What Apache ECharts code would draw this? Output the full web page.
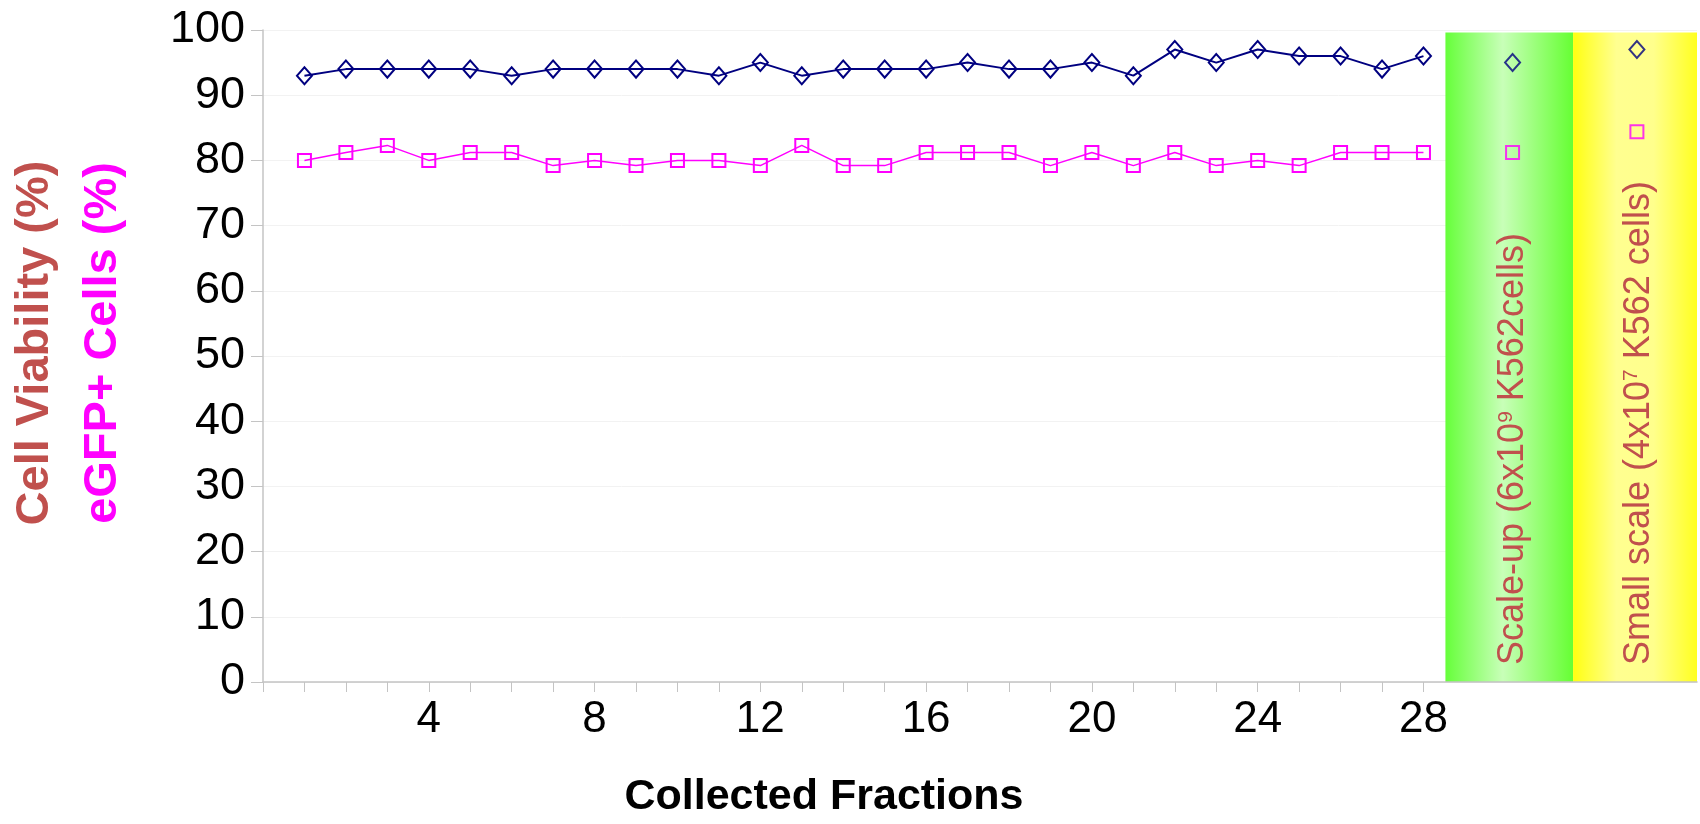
<!DOCTYPE html>
<html lang="en">
<head>
    <meta charset="UTF-8">
    <title>Cell viability / eGFP+ cells</title>
    <style type="text/css">
        body {
            margin: 0;
            background: #fff;
        }

        #chart {
            width: 1700px;
            height: 824px;
        }
    </style>
    <script type="text/javascript" src="https://cdn.jsdelivr.net/npm/echarts@6/dist/echarts.min.js"></script>
</head>
<body>
    <div id="chart"></div>
</body>
</html>
<script type="text/javascript">
    // collected fractions 1..28
    var fractions = [1, 2, 3, 4, 5, 6, 7, 8, 9, 10, 11, 12, 13, 14, 15, 16, 17, 18, 19, 20, 21, 22, 23, 24, 25, 26, 27, 28];
    var viability = [93, 94, 94, 94, 94, 93, 94, 94, 94, 94, 93, 95, 93, 94, 94, 94, 95, 94, 94, 95, 93, 97, 95, 97, 96, 96, 94, 96];
    var egfp = [80, 81.2, 82.3, 80, 81.2, 81.2, 79.2, 80, 79.2, 80, 80, 79.2, 82.3, 79.2, 79.2, 81.2, 81.2, 81.2, 79.2, 81.2, 79.2, 81.2, 79.2, 80, 79.2, 81.2, 81.2, 81.2];

    // reference runs shown in the coloured bands
    var bandNames = ['Scale-up (6x10{s|9} K562cells)', 'Small scale (4x10{s|7} K562 cells)'];
    var bandFrom = [28.53, 31.61];
    var bandTo = [31.61, 34.67];
    var bandX = [30.15, 33.15];
    var bandViability = [95, 97];
    var bandEgfp = [81.2, 84.4];

    var xLabels = [4, 8, 12, 16, 20, 24, 28];
    var yMin = 0, yMax = 100, yStep = 10;

    var navy = '#000080';
    var pink = '#ff00ff';
    var red = '#c0504d';
    var axisGray = '#c4c4c4';

    var bandColors = [
        new echarts.graphic.LinearGradient(0, 0, 1, 0, [
            {offset: 0, color: '#66ff3a'},
            {offset: 0.45, color: '#c8ffb8'},
            {offset: 1, color: '#66ff33'}
        ]),
        new echarts.graphic.LinearGradient(0, 0, 1, 0, [
            {offset: 0, color: '#ffff10'},
            {offset: 0.35, color: '#ffff90'},
            {offset: 0.65, color: '#ffff8c'},
            {offset: 1, color: '#ffff20'}
        ])
    ];

    var lineViab = [], lineEgfp = [];
    for (var i = 0; i < fractions.length; i++) {
        lineViab.push([fractions[i], viability[i]]);
        lineEgfp.push([fractions[i], egfp[i]]);
    }
    var dotViab = [], dotEgfp = [], areas = [];
    for (var j = 0; j < bandX.length; j++) {
        dotViab.push([bandX[j], bandViability[j]]);
        dotEgfp.push([bandX[j], bandEgfp[j]]);
        areas.push([{
            xAxis: bandFrom[j],
            yAxis: yMin,
            itemStyle: {color: bandColors[j]},
            label: {formatter: bandNames[j]}
        }, {
            xAxis: bandTo[j],
            yAxis: 99.6
        }]);
    }

    var sans = "'Liberation Sans', Arial, sans-serif";

    var chart = echarts.init(document.getElementById('chart'));
    var option = {
        animation: false,
        grid: {
            left: 263,
            right: 0,
            top: 30,
            bottom: 127
        },
        xAxis: {
            type: 'value',
            min: 0,
            max: 34.6,
            interval: 1,
            z: 3,
            axisLine: {onZero: false, lineStyle: {color: axisGray, width: 1.5}},
            axisTick: {length: 10, lineStyle: {color: axisGray}, customValues: [0].concat(fractions)},
            splitLine: {show: false},
            axisLabel: {
                margin: 16,
                fontFamily: sans,
                fontSize: 44,
                color: '#000',
                formatter: function (v) {
                    return xLabels.indexOf(v) >= 0 ? String(v) : '';
                }
            },
            name: 'Collected Fractions',
            nameLocation: 'middle',
            nameGap: 94,
            nameTextStyle: {
                fontFamily: sans,
                fontSize: 43,
                fontWeight: 'bold',
                color: '#000',
                padding: [0, 312, 0, 0]
            }
        },
        yAxis: {
            type: 'value',
            min: yMin,
            max: yMax,
            interval: yStep,
            axisLine: {show: true, lineStyle: {color: axisGray, width: 1.5}},
            axisTick: {show: true, length: 12, lineStyle: {color: axisGray}},
            splitLine: {lineStyle: {color: '#f2f2f2'}},
            axisLabel: {
                margin: 18,
                fontFamily: sans,
                fontSize: 45,
                color: '#000'
            },
            name: '{a|Cell Viability (%)}\n{b|eGFP+ Cells (%)}',
            nameLocation: 'middle',
            nameRotate: 90,
            nameGap: 126,
            nameTextStyle: {
                padding: [0, 0, 0, 26],
                rich: {
                    a: {fontFamily: sans, fontSize: 47, fontWeight: 'bold', color: red, lineHeight: 68},
                    b: {fontFamily: sans, fontSize: 47, fontWeight: 'bold', color: pink, lineHeight: 68}
                }
            }
        },
        series: [{
            name: 'Reference runs',
            type: 'scatter',
            silent: true,
            data: [],
            markArea: {
                silent: true,
                label: {
                    show: true,
                    position: 'insideBottom',
                    distance: 17,
                    rotate: 90,
                    align: 'left',
                    verticalAlign: 'middle',
                    padding: [8, 0, 0, 0],
                    fontFamily: sans,
                    fontSize: 36,
                    color: red,
                    rich: {
                        s: {fontFamily: sans, fontSize: 21, color: red, verticalAlign: 'top', lineHeight: 36}
                    }
                },
                data: areas
            }
        }, {
            name: 'Cell Viability',
            type: 'line',
            data: lineViab,
            symbol: 'diamond',
            symbolSize: [15, 17],
            itemStyle: {color: 'rgba(0,0,0,0)', borderColor: navy, borderWidth: 2},
            lineStyle: {color: navy, width: 2},
            z: 4
        }, {
            name: 'eGFP+ Cells',
            type: 'line',
            data: lineEgfp,
            symbol: 'rect',
            symbolSize: 13,
            itemStyle: {color: 'rgba(0,0,0,0)', borderColor: pink, borderWidth: 2},
            lineStyle: {color: pink, width: 1.5},
            z: 4
        }, {
            name: 'Cell Viability (ref)',
            type: 'scatter',
            data: dotViab,
            symbol: 'diamond',
            symbolSize: [15, 17],
            itemStyle: {color: 'rgba(0,0,0,0)', borderColor: navy, borderWidth: 2},
            z: 4
        }, {
            name: 'eGFP+ Cells (ref)',
            type: 'scatter',
            data: dotEgfp,
            symbol: 'rect',
            symbolSize: 13,
            itemStyle: {color: 'rgba(0,0,0,0)', borderColor: pink, borderWidth: 2},
            z: 4
        }]
    };
    chart.setOption(option);
</script>
